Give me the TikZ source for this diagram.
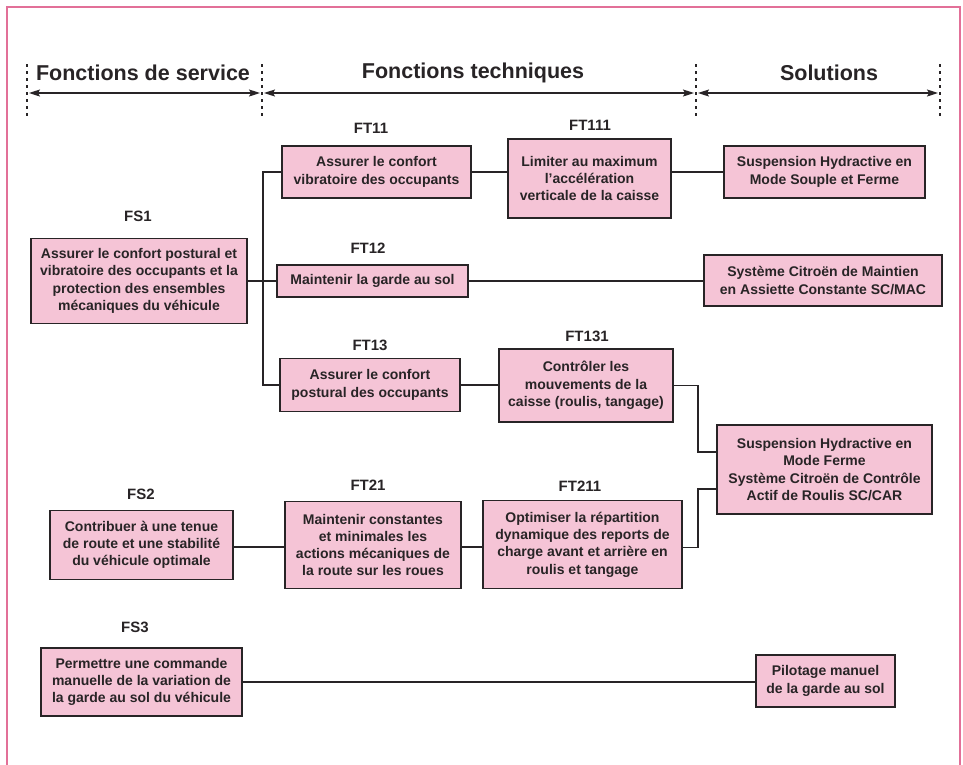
\documentclass[tikz,border=0pt]{standalone}
\usepackage{fontspec}
\setmainfont{Liberation Sans}
\usetikzlibrary{arrows.meta}

\definecolor{boxfill}{RGB}{245,196,214}
\definecolor{frameline}{RGB}{226,112,152}
\definecolor{ink}{RGB}{40,36,38}

\tikzset{
  fbox/.style={draw=ink, line width=1.4pt, fill=boxfill, align=center,
    inner sep=2pt, text=ink,
    font=\bfseries\fontsize{14}{17.3}\selectfont},
  flabel/.style={text=ink, font=\bfseries\fontsize{15}{18}\selectfont},
  colhead/.style={text=ink, font=\bfseries\fontsize{21.5}{24}\selectfont},
  link/.style={draw=ink, line width=1.4pt},
  divider/.style={draw=ink, line width=1.4pt, dash pattern=on 3pt off 4pt},
  span/.style={draw=ink, line width=1.3pt,
    {Stealth[length=11pt,width=7pt,inset=2pt]}-{Stealth[length=11pt,width=7pt,inset=2pt]}},
}

\begin{document}
\begin{tikzpicture}[x=1pt,y=-1pt]
\useasboundingbox (0,0) rectangle (963,764);
\fill[white] (0,0) rectangle (963,764);

% open page frame
\draw[frameline, line width=1.8pt] (7,770) -- (7,7) -- (960,7) -- (960,770);

% column headers
\node[colhead] (hs) at (143,73) {Fonctions de service};
\node[colhead] (ht) at (473,73) {Fonctions techniques};
\node[colhead] (hsol) at (829,73) {Solutions};

\coordinate (d1t) at (27,64);  \coordinate (d1b) at (27,117);
\coordinate (d2t) at (262,64); \coordinate (d2b) at (262,117);
\coordinate (d3t) at (696,64); \coordinate (d3b) at (696,117);
\coordinate (d4t) at (940,64); \coordinate (d4b) at (940,117);
\draw[divider] (d1t) -- (d1b);
\draw[divider] (d2t) -- (d2b);
\draw[divider] (d3t) -- (d3b);
\draw[divider] (d4t) -- (d4b);

\coordinate (a1) at (29,93);  \coordinate (a2) at (260,93);
\coordinate (a3) at (264,93); \coordinate (a4) at (694,93);
\coordinate (a5) at (698,93); \coordinate (a6) at (938,93);
\draw[span] (a1) -- (a2);
\draw[span] (a3) -- (a4);
\draw[span] (a5) -- (a6);

% service functions
\node[fbox, minimum width=216pt, minimum height=85pt] (FS1) at (139,281)
  {Assurer le confort postural et\\vibratoire des occupants et la\\protection des ensembles\\mécaniques du véhicule};
\node[flabel] (lFS1) at (138,216) {FS1};

\node[fbox, minimum width=183pt, minimum height=69pt] (FS2) at (141.5,545)
  {Contribuer à une tenue\\de route et une stabilité\\du véhicule optimale};
\node[flabel] (lFS2) at (141,494) {FS2};

\node[fbox, minimum width=201pt, minimum height=68pt] (FS3) at (141.5,682)
  {Permettre une commande\\manuelle de la variation de\\la garde au sol du véhicule};
\node[flabel] (lFS3) at (135,627) {FS3};

% technical functions
\node[fbox, minimum width=189pt, minimum height=52pt] (FT11) at (376.5,172)
  {Assurer le confort\\vibratoire des occupants};
\node[flabel] (lFT11) at (371,128) {FT11};

\node[fbox, minimum width=191pt, minimum height=32pt] (FT12) at (372.5,281)
  {Maintenir la garde au sol};
\node[flabel] (lFT12) at (368,248) {FT12};

\node[fbox, minimum width=180pt, minimum height=53pt] (FT13) at (370,385)
  {Assurer le confort\\postural des occupants};
\node[flabel] (lFT13) at (370,345) {FT13};

\node[fbox, minimum width=163pt, minimum height=79pt] (FT111) at (589.5,178.5)
  {Limiter au maximum\\l\symbol{39}accélération\\verticale de la caisse};
\node[flabel] (lFT111) at (590,125) {FT111};

\node[fbox, minimum width=174pt, minimum height=73pt] (FT131) at (586,385.5)
  {Contrôler les\\mouvements de la\\caisse (roulis, tangage)};
\node[flabel] (lFT131) at (587,336) {FT131};

\node[fbox, minimum width=176pt, minimum height=87pt] (FT21) at (373,545)
  {Maintenir constantes\\et minimales les\\actions mécaniques de\\la route sur les roues};
\node[flabel] (lFT21) at (368,485) {FT21};

\node[fbox, minimum width=199pt, minimum height=88pt] (FT211) at (582.5,544.5)
  {Optimiser la répartition\\dynamique des reports de\\charge avant et arrière en\\roulis et tangage};
\node[flabel] (lFT211) at (580,486) {FT211};

% solutions
\node[fbox, minimum width=201pt, minimum height=52pt] (S1) at (824.5,172)
  {Suspension Hydractive en\\Mode Souple et Ferme};
\node[fbox, minimum width=238pt, minimum height=51pt] (S2) at (823,280.5)
  {Système Citroën de Maintien\\en Assiette Constante SC/MAC};
\node[fbox, minimum width=215pt, minimum height=89pt] (S3) at (824.5,469.5)
  {Suspension Hydractive en\\Mode Ferme\\Système Citroën de Contrôle\\Actif de Roulis SC/CAR};
\node[fbox, minimum width=139pt, minimum height=52pt] (S4) at (825.5,681)
  {Pilotage manuel\\de la garde au sol};

% connectors
\coordinate (bus) at (263,281);
\draw[link] (FS1.east) -- (FT12.west);
\draw[link] (FT11.west) -| (bus) |- (FT13.west);

\draw[link] (FT11.east) -- (FT11.east -| FT111.west);
\draw[link] (FT111.east |- S1.west) -- (S1.west);
\draw[link] (FT12.east) -- (S2.west |- FT12.east);
\draw[link] (FT13.east) -- (FT13.east -| FT131.west);

\coordinate (k1) at (698,452);
\coordinate (k2) at (698,489);
\draw[link] (FT131.east) -| (k1) -- (S3.west |- k1);
\draw[link] ([yshift=-3pt]FT211.east) -| (k2) -- (S3.west |- k2);

\draw[link] ([yshift=-2pt]FS2.east) -- ([yshift=-2pt]FT21.west);
\draw[link] ([yshift=-2pt]FT21.east) -- ([yshift=-2pt]FT21.east -| FT211.west);
\draw[link] (FS3.east) -- (S4.west |- FS3.east);
\end{tikzpicture}
\end{document}
